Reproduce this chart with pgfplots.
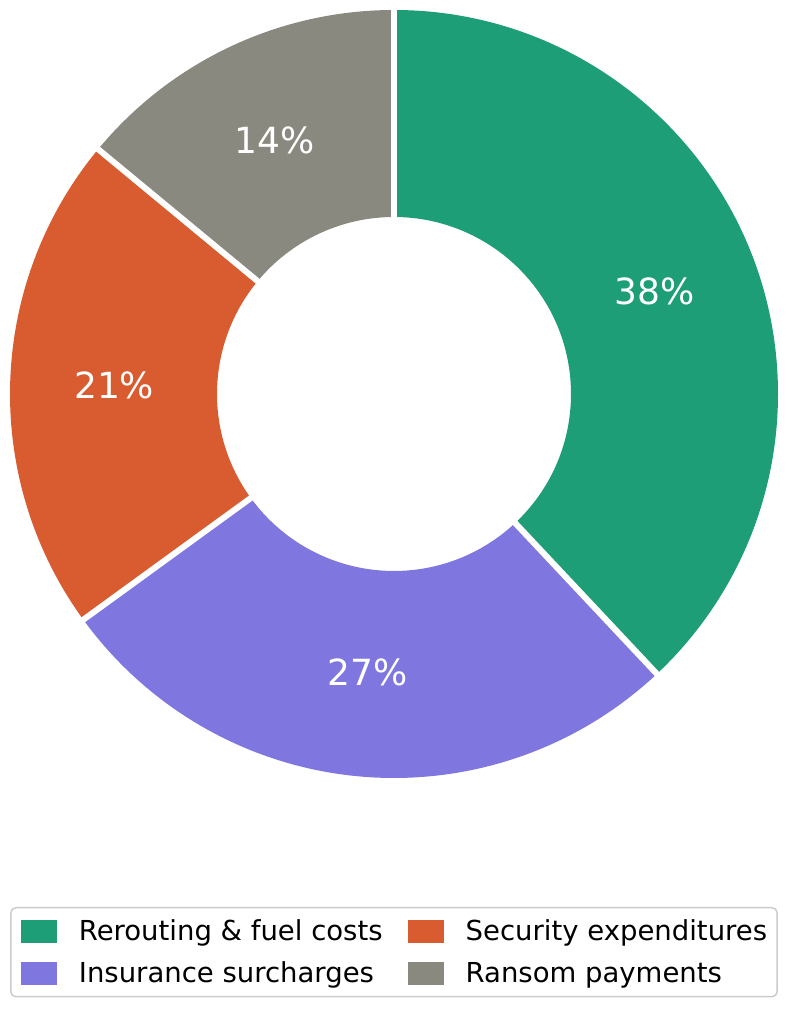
\documentclass[border=0pt]{standalone}
\usepackage{pgfplots}
\pgfplotsset{compat=1.18}
\usepackage{fontspec}
\setmainfont{DejaVu Sans}
\definecolor{cgreen}{RGB}{30,158,118}
\definecolor{corange}{RGB}{217,91,48}
\definecolor{cpurple}{RGB}{127,119,223}
\definecolor{cgray}{RGB}{137,137,128}
\definecolor{lgray}{RGB}{204,204,204}
% #1 cumulative start (%), #2 cumulative end (%), #3 colour
\newcommand\slice[3]{%
  \fill[#3] ([shift={({90-3.6*#1}:384pt)}]axis cs:394,616)
    arc[start angle={90-3.6*#1}, end angle={90-3.6*#2}, radius=384pt]
    -- ([shift={({90-3.6*#2}:177pt)}]axis cs:394,616)
    arc[start angle={90-3.6*#2}, end angle={90-3.6*#1}, radius=177pt] -- cycle;}
\newcommand\sepline[1]{%
  \draw[white, line width=6pt] ([shift={({90-3.6*#1}:170pt)}]axis cs:394,616)
    -- ([shift={({90-3.6*#1}:392pt)}]axis cs:394,616);}
\newcommand\lab[3]{% start end text
  \node[white, font=\fontsize{36}{43}\selectfont] at ([shift={({90-1.8*(#1+#2)}:280pt)}]axis cs:394,616) {#3};}
\newcommand\patch[1]{\fill[#1, sharp corners, draw=none] (0pt,-11.5pt) rectangle (36pt,11.5pt); \path[draw=none, fill=none] (0pt,0pt) (58pt,0pt);}
\begin{document}%
\begin{tikzpicture}%
\begin{axis}[
  width=790pt, height=1010pt, scale only axis,
  xmin=0, xmax=790, ymin=0, ymax=1010,
  hide axis, clip=false,
  legend columns=2,
  legend cell align=left,
  legend style={at={(axis cs:394,103)}, anchor=north, draw=lgray, line width=1.5pt,
    rounded corners=5pt, font=\fontsize{27.5}{33}\selectfont,
    nodes={inner sep=0pt},
    inner xsep=10pt, inner ysep=12pt, row sep=19pt,
    /tikz/every even column/.append style={column sep=25pt}},
]
\slice{0}{38}{cgreen}
\slice{38}{65}{cpurple}
\slice{65}{86}{corange}
\slice{86}{100}{cgray}
\sepline{0}\sepline{38}\sepline{65}\sepline{86}
\lab{0}{38}{38\%}
\lab{38}{65}{27\%}
\lab{65}{86}{21\%}
\lab{86}{100}{14\%}
\addlegendimage{legend image code/.code={\patch{cgreen}}}
\addlegendentry{Rerouting \& fuel costs}
\addlegendimage{legend image code/.code={\patch{corange}}}
\addlegendentry{Security expenditures}
\addlegendimage{legend image code/.code={\patch{cpurple}}}
\addlegendentry{Insurance surcharges}
\addlegendimage{legend image code/.code={\patch{cgray}}}
\addlegendentry{Ransom payments}
\end{axis}
\pgfresetboundingbox
\path (current axis.south west) rectangle (current axis.north east);
\end{tikzpicture}%
\end{document}
